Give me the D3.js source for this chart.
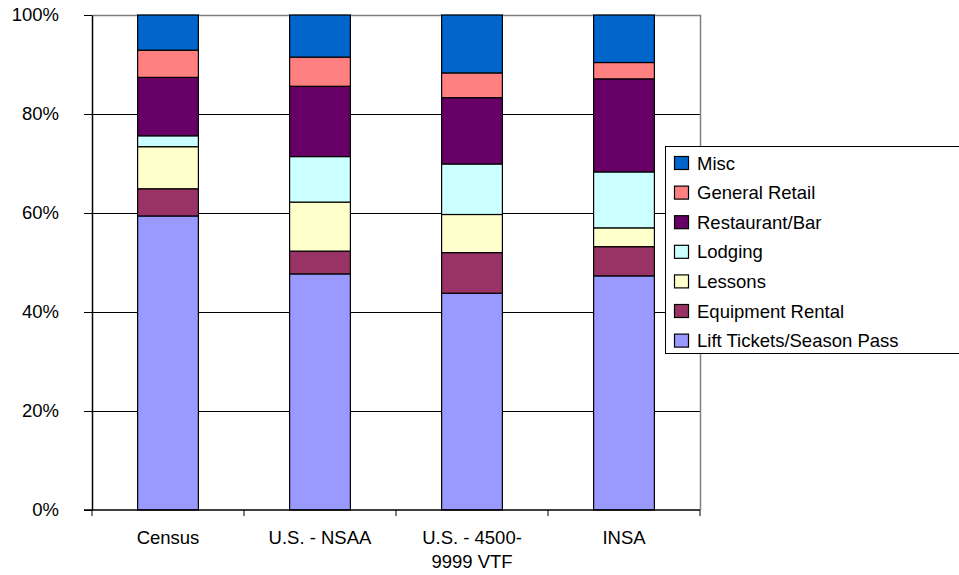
<!DOCTYPE html>
<html>
<head>
<meta charset="utf-8">
<script src="https://cdn.jsdelivr.net/npm/d3@7"></script>
<style>
  body { margin: 0; background: #fff; overflow: hidden; }
  svg { display: block; font-family: "Liberation Sans", Arial, sans-serif; }
</style>
</head>
<body>
<svg id="chart" width="959" height="575"></svg>
<script>
// Categories (x axis), each label may wrap onto two lines
const categories = ["Census", "U.S. - NSAA", "U.S. - 4500-9999 VTF", "INSA"];
const categoryLines = [["Census"], ["U.S. - NSAA"], ["U.S. - 4500-", "9999 VTF"], ["INSA"]];

// Series, bottom to top of the stack
const seriesNames = [
  "Lift Tickets/Season Pass",
  "Equipment Rental",
  "Lessons",
  "Lodging",
  "Restaurant/Bar",
  "General Retail",
  "Misc"
];

// Percent shares, one value per category
const liftTickets = [59.4, 47.7, 43.8, 47.3];
const equipment   = [5.5, 4.6, 8.2, 5.9];
const lessons     = [8.5, 9.9, 7.7, 3.8];
const lodging     = [2.2, 9.2, 10.2, 11.3];
const restaurant  = [11.8, 14.2, 13.4, 18.8];
const retail      = [5.5, 5.9, 5.0, 3.3];
const misc        = [7.1, 8.5, 11.7, 9.6];

const yTicks = [0, 20, 40, 60, 80, 100];

const colors = ["#9999FF", "#993366", "#FFFFCC", "#CCFFFF", "#660066", "#FF8080", "#0066CC"];

// Build rows for d3.stack
const seriesValues = [liftTickets, equipment, lessons, lodging, restaurant, retail, misc];
const rows = categories.map((c, i) => {
  const row = { category: c };
  seriesNames.forEach((s, j) => { row[s] = seriesValues[j][i]; });
  return row;
});

const svg = d3.select("#chart");
const margin = { left: 92, right: 259, top: 15, bottom: 65 };
const width = 959 - margin.left - margin.right;
const height = 575 - margin.top - margin.bottom;
const fontSize = 18.5;

const g = svg.append("g").attr("transform", `translate(${margin.left},${margin.top})`);

const x = d3.scaleBand().domain(categories).range([0, width]).paddingInner(0.6).paddingOuter(0.3);
const y = d3.scaleLinear().domain([0, 100]).range([height, 0]);

// Stack normalised to 100%
const stacked = d3.stack().keys(seriesNames).offset(d3.stackOffsetExpand)(rows);

// Gridlines
g.append("g")
  .selectAll("line")
  .data(yTicks.filter(t => t > 0 && t < 100))
  .join("line")
  .attr("x1", 0).attr("x2", width)
  .attr("y1", d => y(d) + 0.5).attr("y2", d => y(d) + 0.5)
  .attr("stroke", "#000").attr("stroke-width", 1);

// Plot border (top and right)
g.append("path")
  .attr("d", `M0,0.5H${width + 0.5}V${height}`)
  .attr("fill", "none").attr("stroke", "#808080").attr("stroke-width", 1.5);

// Bars
g.append("g")
  .selectAll("g")
  .data(stacked)
  .join("g")
  .attr("fill", (d, i) => colors[i])
  .selectAll("rect")
  .data(d => d)
  .join("rect")
  .attr("x", d => x(d.data.category))
  .attr("width", x.bandwidth())
  .attr("y", d => y(d[1] * 100))
  .attr("height", d => y(d[0] * 100) - y(d[1] * 100))
  .attr("stroke", "#000")
  .attr("stroke-width", 1.2);

// Y axis
const yAxis = g.append("g")
  .call(d3.axisLeft(y).tickValues(yTicks).tickFormat(d => d + "%").tickSize(8).tickSizeOuter(0));
yAxis.select(".domain").attr("stroke", "#000").attr("stroke-width", 1.5);
yAxis.selectAll(".tick line").attr("stroke", "#000");
yAxis.selectAll(".tick text")
  .attr("x", -33)
  .attr("font-size", fontSize)
  .attr("font-family", "Liberation Sans, Arial, sans-serif")
  .attr("fill", "#000");

// X axis with tick marks at category boundaries
const xAxis = g.append("g").attr("transform", `translate(0,${height})`);
xAxis.append("line")
  .attr("x1", -8).attr("x2", width)
  .attr("stroke", "#000").attr("stroke-width", 1.5);
const boundaries = d3.range(categories.length + 1).map(i => i * width / categories.length);
xAxis.selectAll(".xtick")
  .data(boundaries)
  .join("line")
  .attr("class", "xtick")
  .attr("x1", d => d).attr("x2", d => d)
  .attr("y1", 0).attr("y2", 6)
  .attr("stroke", "#000");

xAxis.selectAll(".xlabel")
  .data(categories)
  .join("text")
  .attr("class", "xlabel")
  .attr("text-anchor", "middle")
  .attr("font-size", fontSize)
  .attr("fill", "#000")
  .attr("transform", d => `translate(${x(d) + x.bandwidth() / 2},34)`)
  .selectAll("tspan")
  .data((d, i) => categoryLines[i])
  .join("tspan")
  .attr("x", 0)
  .attr("dy", (d, i) => i === 0 ? 0 : 24)
  .text(d => d);

// Legend, top entry is the top of the stack
const legend = svg.append("g").attr("transform", "translate(665,146)");
legend.append("rect")
  .attr("x", 0.5).attr("y", 0.5)
  .attr("width", 320).attr("height", 207)
  .attr("fill", "#fff").attr("stroke", "#000").attr("stroke-width", 1);

const legendItems = seriesNames.map((s, i) => ({ name: s, color: colors[i] })).reverse();
const item = legend.selectAll(".item")
  .data(legendItems)
  .join("g")
  .attr("class", "item")
  .attr("transform", (d, i) => `translate(0,${17 + i * 29.6})`);
item.append("rect")
  .attr("x", 9.5).attr("y", -6.5)
  .attr("width", 14).attr("height", 13)
  .attr("fill", d => d.color)
  .attr("stroke", "#000").attr("stroke-width", 1.2);
item.append("text")
  .attr("x", 32).attr("y", 6.5)
  .attr("font-size", fontSize)
  .attr("fill", "#000")
  .text(d => d.name);
</script>
</body>
</html>
